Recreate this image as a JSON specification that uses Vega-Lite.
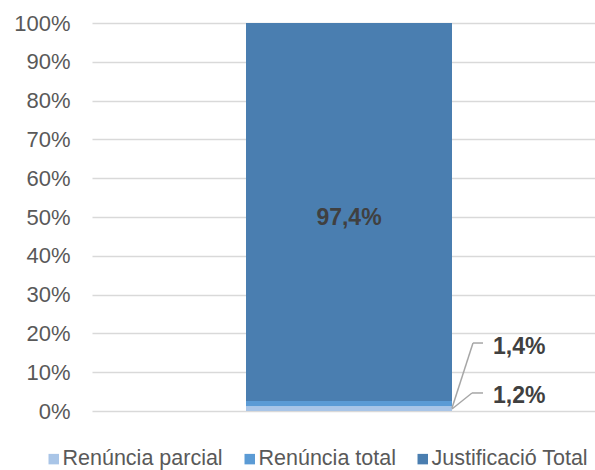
{
  "$schema": "https://vega.github.io/schema/vega-lite/v6.json",
  "width": 514,
  "height": 388,
  "autosize": {"type": "none"},
  "padding": {"left": 92, "top": 23, "right": 0, "bottom": 59},
  "config": {"view": {"stroke": null}, "font": "Liberation Sans"},
  "data": {"values": [
    {"cat": "A", "serie": "Renúncia parcial", "value": 0.012, "ord": 1, "label": "1,2%"},
    {"cat": "A", "serie": "Renúncia total", "value": 0.014, "ord": 2, "label": "1,4%"},
    {"cat": "A", "serie": "Justificació Total", "value": 0.974, "ord": 3, "label": "97,4%"}
  ]},
  "transform": [
    {"stack": "value", "groupby": ["cat"], "sort": [{"field": "ord"}], "as": ["v0", "v1"]},
    {"calculate": "(datum.v0 + datum.v1) / 2", "as": "mid"}
  ],
  "layer": [
    {
      "mark": {"type": "bar"},
      "encoding": {
        "x": {"field": "cat", "type": "nominal", "axis": null, "scale": {"paddingInner": 0, "paddingOuter": 0.7476}},
        "y": {"field": "v0", "type": "quantitative", "scale": {"domain": [0, 1], "nice": false},
          "axis": {"title": null, "format": ".0%", "values": [0, 0.1, 0.2, 0.3, 0.4, 0.5, 0.6, 0.7, 0.8, 0.9, 1], "tickCount": 20, "labelOverlap": false, "domain": false, "ticks": false, "labelPadding": 22, "labelFontSize": 22, "labelColor": "#595959", "labelFont": "Liberation Sans", "gridColor": "#d9d9d9", "gridWidth": 1.5}},
        "y2": {"field": "v1"},
        "color": {"field": "serie", "type": "nominal",
          "scale": {"domain": ["Renúncia parcial", "Renúncia total", "Justificació Total"], "range": ["#a9c5e7", "#5b9bd5", "#4a7eb0"]},
          "legend": {"title": null, "orient": "none", "direction": "horizontal", "legendX": -49, "legendY": 425, "symbolType": "square", "symbolSize": 110, "symbolStrokeWidth": 0, "labelFontSize": 21.5, "labelColor": "#595959", "labelFont": "Liberation Sans", "labelLimit": 400, "labelOffset": -2, "columnPadding": 16}}
      }
    },
    {
      "transform": [{"filter": "datum.ord == 3"}],
      "mark": {"type": "text", "fontSize": 23, "fontWeight": "bold", "color": "#404040", "dy": 6},
      "encoding": {
        "x": {"field": "cat", "type": "nominal"},
        "y": {"field": "mid", "type": "quantitative",
          "axis": {"title": null, "format": ".0%", "values": [0, 0.1, 0.2, 0.3, 0.4, 0.5, 0.6, 0.7, 0.8, 0.9, 1], "tickCount": 20, "labelOverlap": false, "domain": false, "ticks": false, "labelPadding": 22, "labelFontSize": 22, "labelColor": "#595959", "labelFont": "Liberation Sans", "gridColor": "#d9d9d9", "gridWidth": 1.5}},
        "text": {"field": "label"}
      }
    },
    {
      "transform": [{"filter": "datum.ord == 1"}],
      "mark": {"type": "text", "fontSize": 23, "fontWeight": "bold", "color": "#404040", "align": "left", "dx": 41, "dy": -13},
      "encoding": {
        "x": {"field": "cat", "type": "nominal", "bandPosition": 1},
        "y": {"field": "mid", "type": "quantitative",
          "axis": {"title": null, "format": ".0%", "values": [0, 0.1, 0.2, 0.3, 0.4, 0.5, 0.6, 0.7, 0.8, 0.9, 1], "tickCount": 20, "labelOverlap": false, "domain": false, "ticks": false, "labelPadding": 22, "labelFontSize": 22, "labelColor": "#595959", "labelFont": "Liberation Sans", "gridColor": "#d9d9d9", "gridWidth": 1.5}},
        "text": {"field": "label"}
      }
    },
    {
      "transform": [{"filter": "datum.ord == 2"}],
      "mark": {"type": "text", "fontSize": 23, "fontWeight": "bold", "color": "#404040", "align": "left", "dx": 41, "dy": -57},
      "encoding": {
        "x": {"field": "cat", "type": "nominal", "bandPosition": 1},
        "y": {"field": "mid", "type": "quantitative",
          "axis": {"title": null, "format": ".0%", "values": [0, 0.1, 0.2, 0.3, 0.4, 0.5, 0.6, 0.7, 0.8, 0.9, 1], "tickCount": 20, "labelOverlap": false, "domain": false, "ticks": false, "labelPadding": 22, "labelFontSize": 22, "labelColor": "#595959", "labelFont": "Liberation Sans", "gridColor": "#d9d9d9", "gridWidth": 1.5}},
        "text": {"field": "label"}
      }
    },
    {
      "transform": [{"filter": "datum.ord == 1"}],
      "mark": {"type": "rule", "color": "#a6a6a6", "strokeWidth": 1.5, "xOffset": 206, "x2Offset": 123, "yOffset": 0.3, "y2Offset": -15.7},
      "encoding": {
        "x": {"field": "cat", "type": "nominal", "bandPosition": 0},
        "x2": {"field": "cat"},
        "y": {"field": "mid", "type": "quantitative",
          "axis": {"title": null, "format": ".0%", "values": [0, 0.1, 0.2, 0.3, 0.4, 0.5, 0.6, 0.7, 0.8, 0.9, 1], "tickCount": 20, "labelOverlap": false, "domain": false, "ticks": false, "labelPadding": 22, "labelFontSize": 22, "labelColor": "#595959", "labelFont": "Liberation Sans", "gridColor": "#d9d9d9", "gridWidth": 1.5}},
        "y2": {"field": "mid"}
      }
    },
    {
      "transform": [{"filter": "datum.ord == 1"}],
      "mark": {"type": "rule", "color": "#a6a6a6", "strokeWidth": 1.5, "xOffset": 226, "x2Offset": 134, "yOffset": -15.7, "y2Offset": -15.7},
      "encoding": {
        "x": {"field": "cat", "type": "nominal", "bandPosition": 0},
        "x2": {"field": "cat"},
        "y": {"field": "mid", "type": "quantitative",
          "axis": {"title": null, "format": ".0%", "values": [0, 0.1, 0.2, 0.3, 0.4, 0.5, 0.6, 0.7, 0.8, 0.9, 1], "tickCount": 20, "labelOverlap": false, "domain": false, "ticks": false, "labelPadding": 22, "labelFontSize": 22, "labelColor": "#595959", "labelFont": "Liberation Sans", "gridColor": "#d9d9d9", "gridWidth": 1.5}},
        "y2": {"field": "mid"}
      }
    },
    {
      "transform": [{"filter": "datum.ord == 2"}],
      "mark": {"type": "rule", "color": "#a6a6a6", "strokeWidth": 1.5, "xOffset": 206, "x2Offset": 124, "yOffset": 4.4, "y2Offset": -60.6},
      "encoding": {
        "x": {"field": "cat", "type": "nominal", "bandPosition": 0},
        "x2": {"field": "cat"},
        "y": {"field": "mid", "type": "quantitative",
          "axis": {"title": null, "format": ".0%", "values": [0, 0.1, 0.2, 0.3, 0.4, 0.5, 0.6, 0.7, 0.8, 0.9, 1], "tickCount": 20, "labelOverlap": false, "domain": false, "ticks": false, "labelPadding": 22, "labelFontSize": 22, "labelColor": "#595959", "labelFont": "Liberation Sans", "gridColor": "#d9d9d9", "gridWidth": 1.5}},
        "y2": {"field": "mid"}
      }
    },
    {
      "transform": [{"filter": "datum.ord == 2"}],
      "mark": {"type": "rule", "color": "#a6a6a6", "strokeWidth": 1.5, "xOffset": 227, "x2Offset": 134, "yOffset": -60.6, "y2Offset": -60.6},
      "encoding": {
        "x": {"field": "cat", "type": "nominal", "bandPosition": 0},
        "x2": {"field": "cat"},
        "y": {"field": "mid", "type": "quantitative",
          "axis": {"title": null, "format": ".0%", "values": [0, 0.1, 0.2, 0.3, 0.4, 0.5, 0.6, 0.7, 0.8, 0.9, 1], "tickCount": 20, "labelOverlap": false, "domain": false, "ticks": false, "labelPadding": 22, "labelFontSize": 22, "labelColor": "#595959", "labelFont": "Liberation Sans", "gridColor": "#d9d9d9", "gridWidth": 1.5}},
        "y2": {"field": "mid"}
      }
    }
  ]
}
